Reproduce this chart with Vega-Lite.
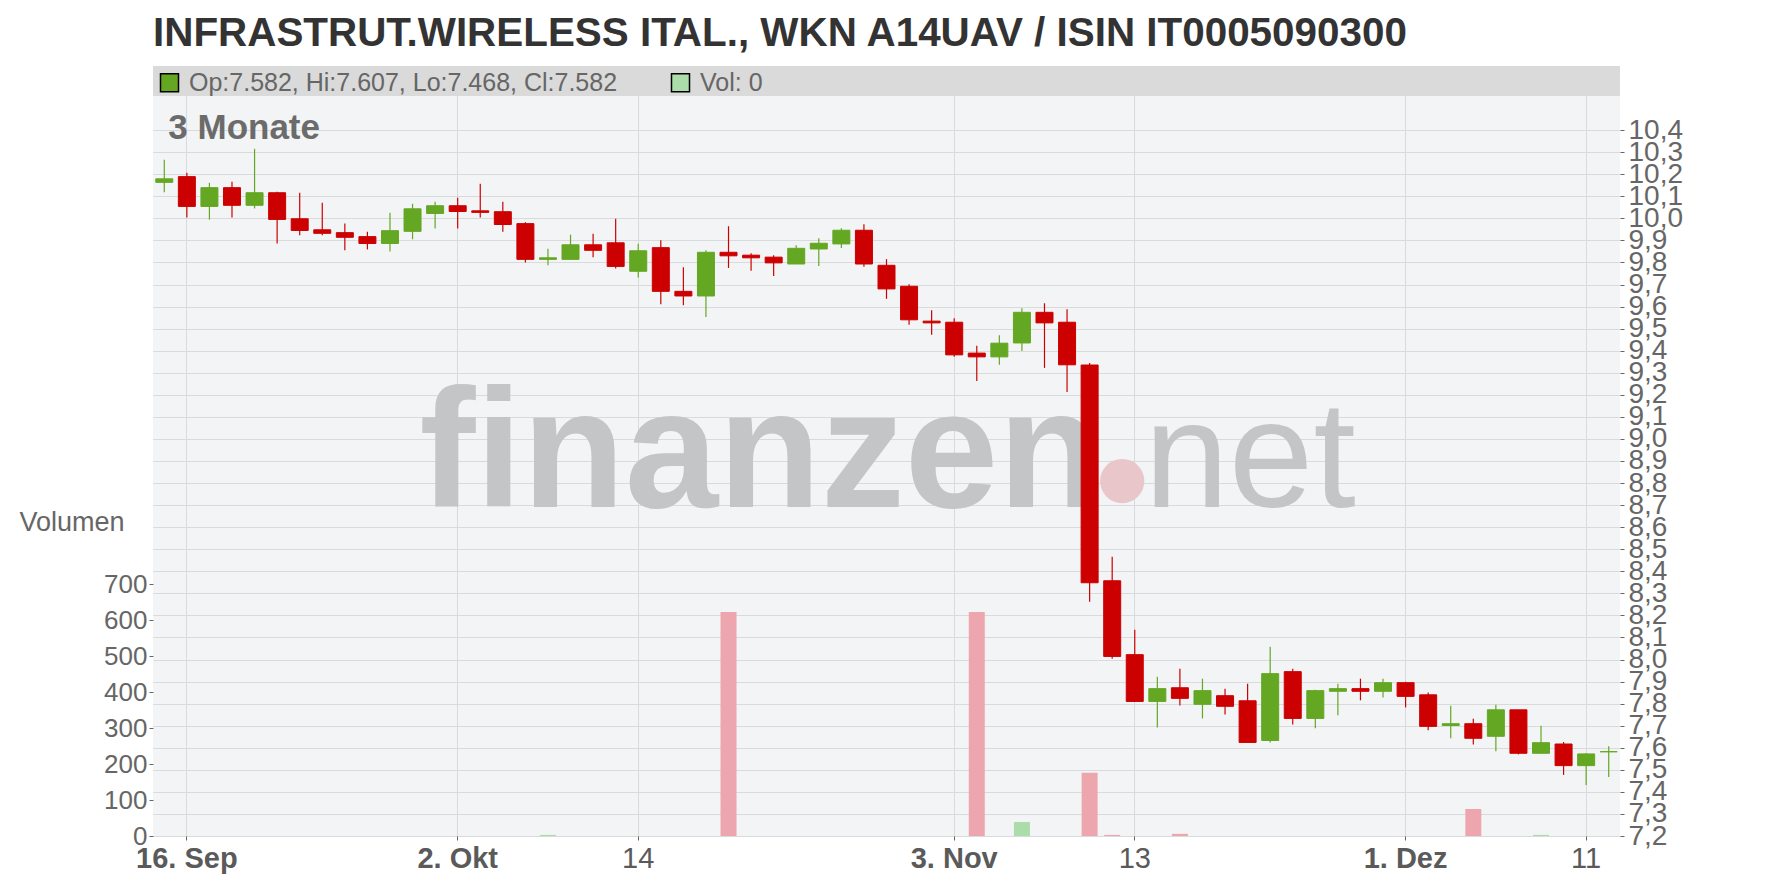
{
  "$schema": "https://vega.github.io/schema/vega-lite/v6.json",
  "width": 1467,
  "height": 770,
  "autosize": "none",
  "padding": {"left": 153, "top": 66, "right": 156, "bottom": 52},
  "background": "#ffffff",
  "view": {"stroke": null, "fill": "#f3f4f6"},
  "config": {"font": "Liberation Sans"},
  "title": {"text": "INFRASTRUT.WIRELESS ITAL., WKN A14UAV / ISIN IT0005090300", "anchor": "start", "frame": "group", "fontSize": 40.4, "fontWeight": "bold", "color": "#333333", "font": "Liberation Sans", "offset": 12},
  "datasets": {
    "ohlc": [
      {"d": "2020-09-15", "o": 10.163, "h": 10.266, "l": 10.118, "c": 10.179, "v": 0},
      {"d": "2020-09-16", "o": 10.189, "h": 10.207, "l": 10.004, "c": 10.054, "v": 0},
      {"d": "2020-09-17", "o": 10.054, "h": 10.161, "l": 9.994, "c": 10.139, "v": 0},
      {"d": "2020-09-18", "o": 10.139, "h": 10.166, "l": 10.004, "c": 10.059, "v": 0},
      {"d": "2020-09-21", "o": 10.059, "h": 10.315, "l": 10.045, "c": 10.116, "v": 0},
      {"d": "2020-09-22", "o": 10.116, "h": 10.121, "l": 9.886, "c": 9.995, "v": 0},
      {"d": "2020-09-23", "o": 9.998, "h": 10.116, "l": 9.923, "c": 9.945, "v": 0},
      {"d": "2020-09-24", "o": 9.948, "h": 10.071, "l": 9.923, "c": 9.932, "v": 0},
      {"d": "2020-09-25", "o": 9.935, "h": 9.976, "l": 9.855, "c": 9.914, "v": 0},
      {"d": "2020-09-28", "o": 9.917, "h": 9.939, "l": 9.859, "c": 9.886, "v": 0},
      {"d": "2020-09-29", "o": 9.886, "h": 10.025, "l": 9.850, "c": 9.944, "v": 0},
      {"d": "2020-09-30", "o": 9.941, "h": 10.066, "l": 9.905, "c": 10.043, "v": 0},
      {"d": "2020-10-01", "o": 10.022, "h": 10.075, "l": 9.954, "c": 10.057, "v": 0},
      {"d": "2020-10-02", "o": 10.057, "h": 10.093, "l": 9.954, "c": 10.031, "v": 0},
      {"d": "2020-10-05", "o": 10.034, "h": 10.157, "l": 10.004, "c": 10.027, "v": 0},
      {"d": "2020-10-06", "o": 10.030, "h": 10.075, "l": 9.939, "c": 9.972, "v": 0},
      {"d": "2020-10-07", "o": 9.976, "h": 9.982, "l": 9.800, "c": 9.814, "v": 0},
      {"d": "2020-10-08", "o": 9.814, "h": 9.862, "l": 9.787, "c": 9.821, "v": 3},
      {"d": "2020-10-09", "o": 9.814, "h": 9.926, "l": 9.814, "c": 9.880, "v": 0},
      {"d": "2020-10-12", "o": 9.880, "h": 9.930, "l": 9.823, "c": 9.855, "v": 0},
      {"d": "2020-10-13", "o": 9.889, "h": 9.998, "l": 9.773, "c": 9.782, "v": 0},
      {"d": "2020-10-14", "o": 9.760, "h": 9.885, "l": 9.732, "c": 9.853, "v": 0},
      {"d": "2020-10-15", "o": 9.867, "h": 9.901, "l": 9.610, "c": 9.669, "v": 0},
      {"d": "2020-10-16", "o": 9.669, "h": 9.778, "l": 9.606, "c": 9.648, "v": 0},
      {"d": "2020-10-19", "o": 9.648, "h": 9.855, "l": 9.553, "c": 9.846, "v": 0},
      {"d": "2020-10-20", "o": 9.846, "h": 9.964, "l": 9.775, "c": 9.830, "v": 622},
      {"d": "2020-10-21", "o": 9.833, "h": 9.842, "l": 9.762, "c": 9.821, "v": 0},
      {"d": "2020-10-22", "o": 9.824, "h": 9.833, "l": 9.739, "c": 9.798, "v": 0},
      {"d": "2020-10-23", "o": 9.793, "h": 9.878, "l": 9.793, "c": 9.864, "v": 0},
      {"d": "2020-10-26", "o": 9.861, "h": 9.910, "l": 9.784, "c": 9.887, "v": 0},
      {"d": "2020-10-27", "o": 9.884, "h": 9.955, "l": 9.866, "c": 9.946, "v": 0},
      {"d": "2020-10-28", "o": 9.946, "h": 9.973, "l": 9.780, "c": 9.793, "v": 0},
      {"d": "2020-10-29", "o": 9.787, "h": 9.815, "l": 9.635, "c": 9.680, "v": 0},
      {"d": "2020-10-30", "o": 9.692, "h": 9.701, "l": 9.517, "c": 9.540, "v": 0},
      {"d": "2020-11-02", "o": 9.534, "h": 9.583, "l": 9.472, "c": 9.526, "v": 0},
      {"d": "2020-11-03", "o": 9.529, "h": 9.547, "l": 9.372, "c": 9.381, "v": 0},
      {"d": "2020-11-04", "o": 9.389, "h": 9.422, "l": 9.263, "c": 9.372, "v": 622},
      {"d": "2020-11-05", "o": 9.372, "h": 9.470, "l": 9.336, "c": 9.434, "v": 0},
      {"d": "2020-11-06", "o": 9.435, "h": 9.592, "l": 9.399, "c": 9.574, "v": 39},
      {"d": "2020-11-09", "o": 9.574, "h": 9.615, "l": 9.322, "c": 9.526, "v": 0},
      {"d": "2020-11-10", "o": 9.529, "h": 9.588, "l": 9.213, "c": 9.336, "v": 0},
      {"d": "2020-11-11", "o": 9.335, "h": 9.344, "l": 8.262, "c": 8.348, "v": 176},
      {"d": "2020-11-12", "o": 8.357, "h": 8.466, "l": 8.004, "c": 8.014, "v": 3},
      {"d": "2020-11-13", "o": 8.022, "h": 8.135, "l": 7.810, "c": 7.810, "v": 0},
      {"d": "2020-11-16", "o": 7.810, "h": 7.922, "l": 7.692, "c": 7.868, "v": 0},
      {"d": "2020-11-17", "o": 7.872, "h": 7.958, "l": 7.792, "c": 7.824, "v": 6},
      {"d": "2020-11-18", "o": 7.797, "h": 7.913, "l": 7.733, "c": 7.859, "v": 0},
      {"d": "2020-11-19", "o": 7.836, "h": 7.868, "l": 7.751, "c": 7.788, "v": 0},
      {"d": "2020-11-20", "o": 7.813, "h": 7.890, "l": 7.624, "c": 7.624, "v": 0},
      {"d": "2020-11-23", "o": 7.633, "h": 8.058, "l": 7.624, "c": 7.936, "v": 0},
      {"d": "2020-11-24", "o": 7.945, "h": 7.958, "l": 7.706, "c": 7.733, "v": 0},
      {"d": "2020-11-25", "o": 7.733, "h": 7.863, "l": 7.688, "c": 7.859, "v": 0},
      {"d": "2020-11-26", "o": 7.856, "h": 7.890, "l": 7.747, "c": 7.868, "v": 0},
      {"d": "2020-11-27", "o": 7.868, "h": 7.913, "l": 7.815, "c": 7.856, "v": 0},
      {"d": "2020-11-30", "o": 7.856, "h": 7.913, "l": 7.828, "c": 7.895, "v": 0},
      {"d": "2020-12-01", "o": 7.895, "h": 7.899, "l": 7.783, "c": 7.833, "v": 0},
      {"d": "2020-12-02", "o": 7.840, "h": 7.850, "l": 7.679, "c": 7.697, "v": 0},
      {"d": "2020-12-03", "o": 7.701, "h": 7.791, "l": 7.643, "c": 7.709, "v": 0},
      {"d": "2020-12-04", "o": 7.709, "h": 7.732, "l": 7.615, "c": 7.643, "v": 75},
      {"d": "2020-12-07", "o": 7.652, "h": 7.795, "l": 7.584, "c": 7.772, "v": 0},
      {"d": "2020-12-08", "o": 7.772, "h": 7.772, "l": 7.570, "c": 7.575, "v": 0},
      {"d": "2020-12-09", "o": 7.575, "h": 7.700, "l": 7.575, "c": 7.623, "v": 3},
      {"d": "2020-12-10", "o": 7.617, "h": 7.626, "l": 7.477, "c": 7.519, "v": 0},
      {"d": "2020-12-11", "o": 7.519, "h": 7.576, "l": 7.431, "c": 7.572, "v": 0},
      {"d": "2020-12-14", "o": 7.582, "h": 7.607, "l": 7.468, "c": 7.582, "v": 0}
    ],
    "legendItems": [
      {"item": "Op:7.582, Hi:7.607, Lo:7.468, Cl:7.582"},
      {"item": "Vol: 0"}
    ]
  },
  "layer": [
    {
      "data": {"name": "ohlc"},
      "mark": {"type": "bar", "size": 16},
      "encoding": {
        "x": {
          "field": "d", "type": "ordinal",
          "scale": {"type": "band", "paddingInner": 0, "paddingOuter": 0},
          "axis": {
            "values": ["2020-09-16", "2020-10-02", "2020-10-14", "2020-11-03", "2020-11-13", "2020-12-01", "2020-12-11"],
            "labelExpr": "datum.value == '2020-09-16' ? '16. Sep' : datum.value == '2020-10-02' ? '2. Okt' : datum.value == '2020-10-14' ? '14' : datum.value == '2020-11-03' ? '3. Nov' : datum.value == '2020-11-13' ? '13' : datum.value == '2020-12-01' ? '1. Dez' : '11'",
            "labelFontWeight": {"condition": {"test": "indexof(['2020-09-16','2020-10-02','2020-11-03','2020-12-01'], datum.value) >= 0", "value": "bold"}, "value": "normal"},
            "labelFontSize": 29,
            "labelColor": "#5a5a5a",
            "labelAngle": 0,
            "labelPadding": 4,
            "labelOverlap": false,
            "grid": true,
            "gridColor": "#d9dadc",
            "bandPosition": 0.5,
            "tickSize": 4,
            "tickColor": "#666666",
            "domain": false,
            "title": null
          }
        },
        "y": {
          "field": "v", "type": "quantitative",
          "scale": {"domain": [0, 2138.9], "nice": false, "zero": true},
          "axis": {
            "orient": "left",
            "values": [0, 100, 200, 300, 400, 500, 600, 700],
            "labelFontSize": 26,
            "labelColor": "#666666",
            "labelOverlap": false,
            "grid": false,
            "domain": false,
            "tickSize": 4,
            "tickColor": "#666666",
            "title": "Volumen",
            "titleAngle": 0,
            "titleFontSize": 27,
            "titleFontWeight": "normal",
            "titleColor": "#666666",
            "titleAlign": "left",
            "titleBaseline": "middle",
            "titleX": -134,
            "titleY": 456
          }
        },
        "color": {"condition": {"test": "datum.c >= datum.o", "value": "#abdcaa"}, "value": "#eea6ae"}
      }
    },
    {
      "data": {"values": [{}]},
      "mark": {"type": "rect", "color": "#d9dad9"},
      "encoding": {
        "y": {"datum": 10.5545, "type": "quantitative", "scale": {"domain": [7.2, 10.6905], "nice": false, "zero": false}, "axis": null},
        "y2": {"datum": 10.6905}
      }
    },
    {
      "data": {"values": [{}]},
      "mark": {"type": "text", "text": "finanzen", "fontSize": 168, "fontWeight": "bold", "color": "#c4c5c7", "align": "left", "baseline": "alphabetic", "dx": 7},
      "encoding": {
        "x": {"datum": "2020-09-30", "type": "ordinal", "scale": {"type": "band"}},
        "y": {"datum": 8.691, "type": "quantitative", "scale": {"domain": [7.2, 10.6905], "nice": false, "zero": false}, "axis": null}
      }
    },
    {
      "data": {"values": [{}]},
      "mark": {"type": "point", "filled": true, "size": 1960, "color": "#e9c6ca", "opacity": 1, "xOffset": 10},
      "encoding": {
        "x": {"datum": "2020-11-12", "type": "ordinal", "scale": {"type": "band"}},
        "y": {"datum": 8.809, "type": "quantitative", "scale": {"domain": [7.2, 10.6905], "nice": false, "zero": false}, "axis": null}
      }
    },
    {
      "data": {"values": [{}]},
      "mark": {"type": "text", "text": "net", "fontSize": 152, "fontWeight": "normal", "color": "#c4c5c7", "align": "left", "baseline": "alphabetic", "dx": -13},
      "encoding": {
        "x": {"datum": "2020-11-16", "type": "ordinal", "scale": {"type": "band"}},
        "y": {"datum": 8.691, "type": "quantitative", "scale": {"domain": [7.2, 10.6905], "nice": false, "zero": false}, "axis": null}
      }
    },
    {
      "data": {"values": [{}]},
      "mark": {"type": "text", "text": "3 Monate", "fontSize": 35, "fontWeight": "bold", "color": "#6b6b6b", "align": "left", "baseline": "alphabetic", "dx": 4},
      "encoding": {
        "x": {"datum": "2020-09-15", "type": "ordinal", "scale": {"type": "band"}},
        "y": {"datum": 10.358, "type": "quantitative", "scale": {"domain": [7.2, 10.6905], "nice": false, "zero": false}, "axis": null}
      }
    },
    {
      "data": {"name": "legendItems"},
      "mark": {"type": "square", "opacity": 0},
      "encoding": {
        "fill": {
          "field": "item", "type": "nominal",
          "scale": {"domain": ["Op:7.582, Hi:7.607, Lo:7.468, Cl:7.582", "Vol: 0"], "range": ["#64a723", "#abdcaa"]},
          "legend": {"orient": "top-left", "direction": "horizontal", "title": null, "offset": 4, "padding": 0, "symbolType": "square", "symbolSize": 324, "symbolStrokeColor": "#000000", "symbolStrokeWidth": 1.5, "symbolOpacity": 1, "labelFontSize": 25, "labelColor": "#666666", "labelLimit": 800, "labelOffset": 7, "columnPadding": 50}
        }
      }
    },
    {
      "data": {"name": "ohlc"},
      "mark": {"type": "rule", "strokeWidth": 1.2},
      "encoding": {
        "x": {"field": "d", "type": "ordinal", "scale": {"type": "band"}},
        "y": {
          "field": "l", "type": "quantitative",
          "scale": {"domain": [7.2, 10.6905], "nice": false, "zero": false},
          "axis": {
            "orient": "right",
            "values": [7.2, 7.3, 7.4, 7.5, 7.6, 7.7, 7.8, 7.9, 8.0, 8.1, 8.2, 8.3, 8.4, 8.5, 8.6, 8.7, 8.8, 8.9, 9.0, 9.1, 9.2, 9.3, 9.4, 9.5, 9.6, 9.7, 9.8, 9.9, 10.0, 10.1, 10.2, 10.3, 10.4],
            "labelExpr": "replace(format(datum.value, '.1f'), '.', ',')",
            "labelFontSize": 28,
            "labelColor": "#666666",
            "labelPadding": 4,
            "labelOverlap": false,
            "tickSize": 4,
            "tickColor": "#666666",
            "domain": false,
            "grid": true,
            "gridColor": "#d9dadc",
            "title": null
          }
        },
        "y2": {"field": "h"},
        "color": {"condition": {"test": "datum.c >= datum.o", "value": "#64a723"}, "value": "#cc0000"}
      }
    },
    {
      "data": {"name": "ohlc"},
      "mark": {"type": "bar", "size": 17, "strokeWidth": 1},
      "encoding": {
        "x": {"field": "d", "type": "ordinal", "scale": {"type": "band"}},
        "y": {"field": "o", "type": "quantitative", "scale": {"domain": [7.2, 10.6905], "nice": false, "zero": false}, "axis": null},
        "y2": {"field": "c"},
        "color": {"condition": {"test": "datum.c >= datum.o", "value": "#64a723"}, "value": "#cc0000"},
        "stroke": {"condition": {"test": "datum.c >= datum.o", "value": "#64a723"}, "value": "#cc0000"}
      }
    }
  ],
  "resolve": {"scale": {"y": "independent"}}
}
